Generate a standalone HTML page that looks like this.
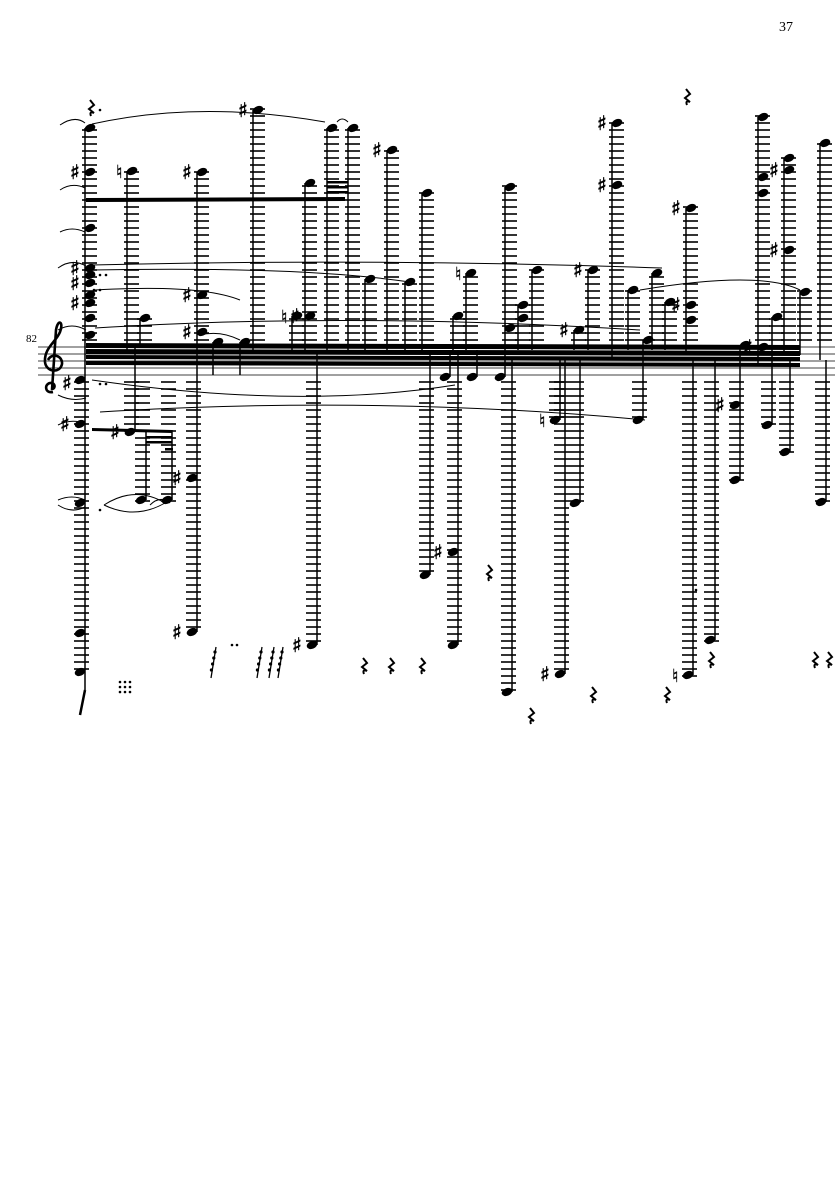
<!DOCTYPE html>
<html><head><meta charset="utf-8"><style>
html,body{margin:0;padding:0;background:#fff;}
svg{display:block}
</style></head><body>
<svg id="s" xmlns="http://www.w3.org/2000/svg" width="835" height="1181" viewBox="0 0 835 1181">
<rect width="835" height="1181" fill="#fff"/>
<text x="779" y="31" font-family="Liberation Serif, serif" font-size="14">37</text>
<text x="26" y="342" font-family="Liberation Serif, serif" font-size="11">82</text>
<g id="staff" stroke="#000" stroke-width="0.8">
<line x1="38" y1="347" x2="835" y2="347"/><line x1="38" y1="354" x2="835" y2="354"/>
<line x1="38" y1="361" x2="835" y2="361"/><line x1="38" y1="368" x2="835" y2="368"/>
<line x1="38" y1="375" x2="835" y2="375"/>
</g>
<path d="M53 392 C44 394 44 382 52 383 C56 384 55 390 51 389 M52 390 L56 330 C58 318 64 322 60 332 C56 342 44 348 45 362 C46 372 60 374 62 364 C63 356 52 352 48 360" fill="none" stroke="#000" stroke-width="2.6"/>
<text x="62" y="390" font-family="DejaVu Sans, sans-serif" font-size="20" stroke="#000" stroke-width="0.6">♯</text>
<g id="g"></g>
</svg>
<script>
var g=document.getElementById('g'),NS='http://www.w3.org/2000/svg';
function el(n,a){var e=document.createElementNS(NS,n);for(var k in a)e.setAttribute(k,a[k]);g.appendChild(e);return e;}
var stems=[
[85,[128,172,228,268,275,283,295,303,318,335,380,424,503,633,672],128,690],
[127,[171],171,350],[135,[432],345,432],[140,[318],318,345],
[146,[500],430,500],[172,[500],430,500],
[197,[172,295,332,478,632],172,632],
[213,[342],342,375],[240,[342],342,375],
[253,[110],110,350],[292,[316],316,350],[305,[183,316],183,350],[317,[645],350,645],
[327,[128],128,350],[348,[128],128,350],
[365,[279],279,350],[387,[150],150,350],[405,[282],282,350],
[422,[193],193,350],[430,[575],350,575],
[453,[316],316,350],[450,[377],350,377],[458,[552,645],350,645],[466,[273],273,350],[477,[377],350,377],
[505,[187,328,377],187,377],[512,[692],360,692],[518,[305,318],305,350],[532,[270],270,350],
[560,[420],360,420],[565,[674],360,674],[574,[330],330,350],[580,[503],360,503],[588,[270],270,350],
[612,[123,185],123,360],[628,[290],290,350],[643,[340,420],340,420],[652,[273],273,350],[665,[302],302,350],
[686,[208,305,320],208,355],[693,[675],360,675],[715,[640],360,640],
[740,[345,405,480],345,480],[758,[117,177,193,347],117,365],[772,[317,425],317,425],
[784,[158,170,250],158,355],[790,[452],360,452],[800,[292],292,355],[820,[143],143,360],[826,[502],360,502]
];
var sharps={"85,172":1,"85,268":1,"85,283":1,"85,303":1,"85,424":1,"197,172":1,"197,295":1,"197,332":1,"197,478":1,"197,632":1,"253,110":1,"305,316":1,"317,645":1,"387,150":1,"458,552":1,"588,270":1,"612,123":1,"612,185":1,"686,208":1,"686,305":1,"740,405":1,"758,347":1,"784,170":1,"784,250":1,"565,674":1,"135,432":1,"574,330":1,"453,377":1};
var naturals={"127,171":1,"292,316":1,"466,273":1,"560,420":1,"693,675":1};
stems.forEach(function(s){
 var x=s[0],ns=s[1],t=s[2],b=s[3];
 el('line',{x1:x,y1:t,x2:x,y2:b,stroke:'#000','stroke-width':1.5});
 var mn=Math.min.apply(null,ns),mx=Math.max.apply(null,ns);
 for(var y=340;y>=mn-1;y-=7) el('line',{x1:x-3,y1:y,x2:x+12,y2:y,stroke:'#000','stroke-width':1.6});
 for(var y=382;y<=mx+1;y+=7) el('line',{x1:x-11,y1:y,x2:x+4,y2:y,stroke:'#000','stroke-width':1.6});
 ns.forEach(function(n){
  var cx=n>376?x-5:x+5;
  el('ellipse',{cx:cx,cy:n,rx:5.5,ry:3.8,transform:'rotate(-22 '+cx+' '+n+')',fill:'#000'});
  if(sharps[x+','+n]){var t=el('text',{x:cx-20,y:n+7,'font-family':'DejaVu Sans, sans-serif','font-size':20,stroke:'#000','stroke-width':0.6});t.textContent='♯';}
  if(naturals[x+','+n]){var t=el('text',{x:cx-16,y:n+7,'font-family':'DejaVu Sans, sans-serif','font-size':18,stroke:'#000','stroke-width':0.4});t.textContent='♮';}
 });
});
function P(d,w){el('path',{d:d,fill:'none',stroke:'#000','stroke-width':w||1});}
[[343,347],[349,353],[355,358],[361,364]].forEach(function(b){
 el('polygon',{points:'86,'+b[0]+' 800,'+(b[0]+2)+' 800,'+(b[1]+3)+' 86,'+(b[1]+1),fill:'#000'});
});
el('polygon',{points:'86,198 345,197 345,201 86,202',fill:'#000'});
[181,186,191].forEach(function(y){el('rect',{x:327,y:y,width:21,height:2.5,fill:'#000'});});
el('polygon',{points:'92,428 172,430 172,433 92,431',fill:'#000'});
el('rect',{x:146,y:436,width:26,height:2.5,fill:'#000'});el('rect',{x:146,y:441,width:26,height:2.5,fill:'#000'});
el('rect',{x:165,y:448,width:8,height:2.5,fill:'#000'});
P('M92 124 Q200 100 325 122');P('M337 122 Q342 116 348 122');
P('M92 265 Q380 258 662 268');P('M92 270 Q300 266 410 282');P('M95 290 Q200 284 240 300');
P('M95 328 Q350 312 640 330');P('M92 380 Q300 410 455 385');P('M100 412 Q380 395 645 420');
P('M104 505 Q135 485 165 503');P('M104 505 Q135 520 165 503');P('M150 505 Q160 495 170 503');
P('M640 290 Q760 270 800 290');P('M200 335 Q220 330 240 340');
P('M60 125 Q75 115 85 123');P('M60 190 Q72 182 85 188');P('M60 232 Q72 226 85 232');P('M58 268 Q72 258 86 266');
P('M58 330 Q72 322 86 330');P('M58 395 Q72 402 86 398');P('M58 425 Q72 418 86 424');P('M58 500 Q72 494 85 500');P('M58 505 Q72 514 85 507');
function R(x,y){P('M'+(x-2)+' '+(y-8)+' L'+(x+2)+' '+(y-3)+' L'+(x-3)+' '+(y+1)+' L'+(x+2)+' '+(y+5)+' Q'+(x-3)+' '+(y+3)+' '+(x-1)+' '+(y+8),2);}
[[688,97],[490,573],[365,666],[392,666],[423,666],[532,716],[594,695],[668,695],[712,660],[816,660],[830,660],[92,108]].forEach(function(r){R(r[0],r[1]);});
P('M85 690 L80 715',2.5);
[[120,682],[125,682],[130,682],[120,687],[125,687],[130,687],[120,692],[125,692],[130,692],[100,110],[94,275],[100,275],[106,275],[94,290],[100,290],[232,345],[100,384],[106,384],[100,510],[232,645],[237,645],[696,590]].forEach(function(d){el('circle',{cx:d[0],cy:d[1],r:1.3,fill:'#000'});});
[[216,650],[262,650],[274,650],[283,650]].forEach(function(f){P('M'+f[0]+' '+(f[1]-3)+' L'+(f[0]-5)+' '+(f[1]+28),1.3);for(var i=0;i<4;i++)el('circle',{cx:f[0]-1-i*1.2,cy:f[1]+2+i*6,r:1.6,fill:'#000'});});
</script>
</body></html>
